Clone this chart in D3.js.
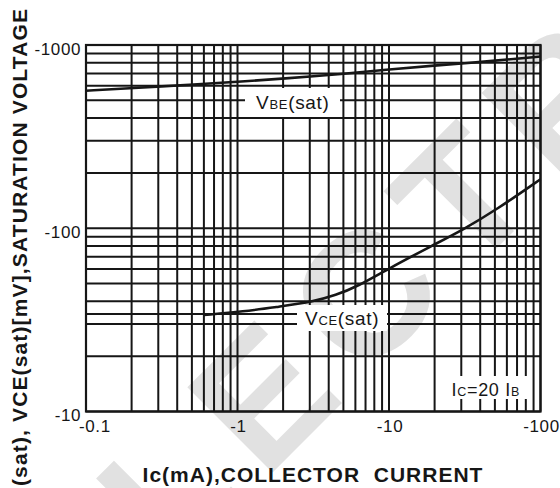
<!DOCTYPE html>
<html><head><meta charset="utf-8">
<script src="https://cdn.jsdelivr.net/npm/d3@7"></script>
<style>body{margin:0;background:#fff}svg text{font-family:"Liberation Sans",Arial,Helvetica,sans-serif}</style>
</head><body>
<svg id="c" width="560" height="488" xmlns="http://www.w3.org/2000/svg"></svg>
<script>
// ---- data ----
const xTickValues = [0.1, 1, 10, 100];
const xTickLabels = ["-0.1", "-1", "-10", "-100"];
const yTickValues = [10, 100, 1000];
const yTickLabels = ["-10", "-100", "-1000"];
const xGridValues = [0.1,0.2,0.3,0.4,0.5,0.6,0.7,0.8,0.9,1,2,3,4,5,6,7,8,9,10,20,30,40,50,60,70,80,90,100];
const yGridValues = [10,20,30,34,40,50,60,70,80,90,100,200,300,400,500,600,700,800,900,1000];
const vbeCurrent = [0.1, 0.2, 0.5, 1, 2, 5, 10, 20, 50, 100];
const vbeVoltage = [563, 582, 608, 630, 655, 695, 737, 772, 820, 865];
const vceCurrent = [0.6, 1.09, 1.9, 3.04, 4.5, 6.15, 10, 19.6, 31, 51, 100];
const vceVoltage = [33.6, 35.1, 37.4, 39.4, 43.3, 48, 60.4, 81, 98.5, 126, 185];
const xTitle = "Ic(mA),COLLECTOR  CURRENT";
const yTitle = "(sat), VCE(sat)[mV],SATURATION VOLTAGE";
const watermark = "ELECTRONIC";

// ---- layout ----
const L = 86, R = 540.5, T = 45, B = 411.5;
const svg = d3.select("#c");
const x = d3.scaleLog().domain([0.1, 100]).range([L, R]);
const y = d3.scaleLog().domain([10, 1000]).range([B, T]);
const ink = "#161616";

svg.append("rect").attr("width", 560).attr("height", 488).attr("fill", "#fff");

// watermark
svg.append("text").text(watermark)
  .attr("transform", "translate(75,670) rotate(-45)")
  .attr("font-size", 175).attr("font-weight", "bold")
  .attr("letter-spacing", 22)
  .attr("fill", "#e1e1e1");

// grid
const g = svg.append("g").attr("stroke", ink).attr("stroke-width", 2);
g.selectAll("line.v").data(xGridValues).join("line").attr("class", "v")
  .attr("x1", d => x(d)).attr("x2", d => x(d)).attr("y1", T).attr("y2", B);
g.selectAll("line.h").data(yGridValues).join("line").attr("class", "h")
  .attr("y1", d => y(d)).attr("y2", d => y(d)).attr("x1", L).attr("x2", R);

// label boxes (white, covering grid)
const boxes = [[245, 88, 95, 29], [297, 305, 90, 26], [445, 376, 82, 23]];
svg.selectAll("rect.box").data(boxes).join("rect").attr("class", "box")
  .attr("x", d => d[0]).attr("y", d => d[1]).attr("width", d => d[2]).attr("height", d => d[3])
  .attr("fill", "#fff");

// curves
const line = d3.line().x(d => x(d[0])).y(d => y(d[1])).curve(d3.curveBasis);
svg.append("path").datum(vbeCurrent.map((c, i) => [c, vbeVoltage[i]]))
  .attr("d", line).attr("fill", "none").attr("stroke", ink).attr("stroke-width", 2.6);
svg.append("path").datum(vceCurrent.map((c, i) => [c, vceVoltage[i]]))
  .attr("d", line).attr("fill", "none").attr("stroke", ink).attr("stroke-width", 2.6);

// border
svg.append("rect").attr("x", L).attr("y", T).attr("width", R - L).attr("height", B - T)
  .attr("fill", "none").attr("stroke", ink).attr("stroke-width", 2.2);

// tick labels
svg.selectAll("text.yt").data(yTickValues).join("text").attr("class", "yt")
  .attr("x", 81).attr("y", d => y(d) + 9.5).attr("text-anchor", "end")
  .attr("font-size", 17).attr("letter-spacing", 0.6).attr("fill", ink)
  .text((d, i) => yTickLabels[i]);
svg.selectAll("text.xt").data(xTickValues).join("text").attr("class", "xt")
  .attr("x", (d, i) => i === 0 ? x(d) - 7 : x(d) + 1)
  .attr("y", 432).attr("text-anchor", (d, i) => i === 0 ? "start" : "middle")
  .attr("font-size", 17).attr("letter-spacing", 0.6).attr("fill", ink)
  .text((d, i) => xTickLabels[i]);

// annotations
function label(px, py, parts, big, small) {
  const t = svg.append("text").attr("x", px).attr("y", py).attr("fill", ink)
    .attr("font-size", big).attr("letter-spacing", 0.7).style("white-space", "pre");
  parts.forEach(p => t.append("tspan").attr("font-size", p[1] ? small : big).text(p[0]));
}
label(256, 109, [["V", 0], ["BE", 1], ["(sat)", 0]], 19, 13);
label(305, 325, [["V", 0], ["CE", 1], ["(sat)", 0]], 19, 13);
label(451.5, 396, [["I", 0], ["C", 1], ["=20 I", 0], ["B", 1]], 18, 12.5);

// axis titles
svg.append("text").text(xTitle).attr("x", 313).attr("y", 481.5)
  .attr("text-anchor", "middle").attr("font-size", 21).attr("font-weight", "bold")
  .attr("letter-spacing", 1).style("white-space", "pre").attr("fill", ink);
svg.append("text").text(yTitle)
  .attr("transform", "translate(26.5,486) rotate(-90)")
  .attr("text-anchor", "start").attr("font-size", 21).attr("font-weight", "bold")
  .attr("textLength", 477).attr("lengthAdjust", "spacing").attr("fill", ink);
</script>
</body></html>
